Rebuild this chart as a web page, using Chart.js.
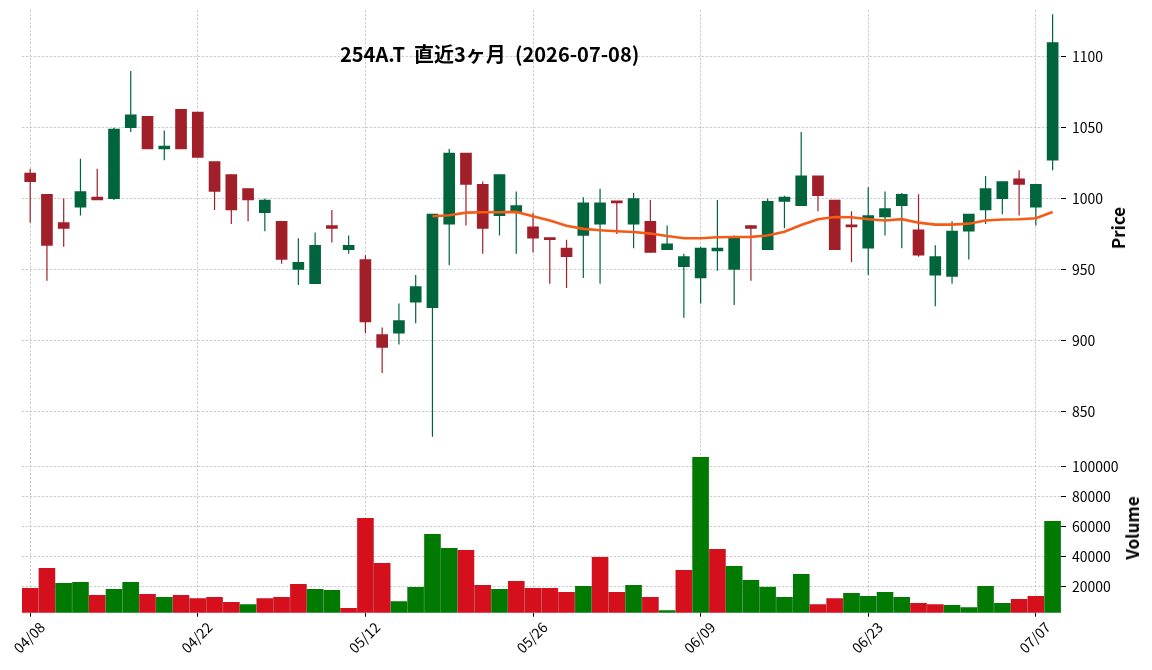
<!DOCTYPE html>
<html lang="ja">
<head>
<meta charset="utf-8">
<title>254A.T 直近3ヶ月</title>
<script src="https://cdn.jsdelivr.net/npm/chart.js@4.4.1/dist/chart.umd.min.js"></script>
<style>
    html, body { margin: 0; padding: 0; background: #fff; }
    #wrap {
        position: relative;
        width: 1152px;
        height: 670px;
        overflow: hidden;
        font-family: 'Noto Sans CJK JP', 'Noto Sans', sans-serif;
        color: #000;
    }
    #price-canvas { position: absolute; left: 0; top: 0; }
    #volume-canvas { position: absolute; left: 0; top: 441px; }
    .chart-title {
        position: absolute;
        left: 340px;
        top: 40px;
        font-size: 20px;
        line-height: 28px;
        font-weight: bold;
        white-space: pre;
    }
    .axis-label {
        position: absolute;
        font-size: 17px;
        font-weight: bold;
        line-height: 20px;
        white-space: pre;
        transform: translate(-50%, -50%) rotate(-90deg);
    }
</style>
</head>
<body>
<div id="wrap">
    <canvas id="price-canvas" width="1152" height="441"></canvas>
    <canvas id="volume-canvas" width="1152" height="229"></canvas>
    <div class="chart-title">254A.T  直近3ヶ月  (2026-07-08)</div>
    <div class="axis-label" style="left:1118px; top:228px;">Price</div>
    <div class="axis-label" style="left:1132px; top:528px;">Volume</div>
</div>

<script>
// ------------------------
// DATA
// ------------------------

const dates = [
    "04/08", "04/09", "04/10", "04/13", "04/14", "04/15", "04/16", "04/17", "04/20", "04/21",
    "04/22", "04/23", "04/24", "04/27", "04/28", "04/30", "05/01", "05/07", "05/08", "05/11",
    "05/12", "05/13", "05/14", "05/15", "05/18", "05/19", "05/20", "05/21", "05/22", "05/25",
    "05/26", "05/27", "05/28", "05/29", "06/01", "06/02", "06/03", "06/04", "06/05", "06/08",
    "06/09", "06/10", "06/11", "06/12", "06/15", "06/16", "06/17", "06/18", "06/19", "06/22",
    "06/23", "06/24", "06/25", "06/26", "06/29", "06/30", "07/01", "07/02", "07/03", "07/06",
    "07/07", "07/08"
];

const opens = [
    1018, 1003, 983, 994, 1001, 1000, 1050, 1058, 1035, 1063,
    1061, 1026, 1017, 1007, 990, 984, 950, 940, 981, 964,
    957, 904, 905, 927, 923, 982, 1032, 1010, 988, 990,
    980, 972, 965, 974, 982, 998, 982, 984, 964, 952,
    944, 963, 950, 981, 964, 998, 995, 1016, 999, 981,
    965, 987, 995, 978, 946, 945, 977, 992, 1000, 1014,
    994, 1027
];

const highs = [
    1021, 1003, 1000, 1028, 1021, 1050, 1090, 1058, 1048, 1063,
    1061, 1026, 1017, 1007, 1000, 984, 972, 976, 992, 974,
    960, 909, 926, 946, 989, 1035, 1032, 1012, 1017, 1005,
    990, 972, 971, 1001, 1007, 998, 1004, 999, 981, 961,
    966, 999, 974, 981, 1000, 1002, 1047, 1016, 999, 991,
    1008, 1005, 1004, 1003, 967, 984, 989, 1016, 1012, 1020,
    1010, 1130
];

const lows = [
    983, 942, 966, 988, 999, 999, 1047, 1035, 1027, 1035,
    1029, 992, 982, 984, 977, 954, 939, 940, 969, 961,
    905, 877, 897, 912, 832, 953, 981, 961, 974, 961,
    962, 940, 937, 944, 940, 975, 965, 962, 964, 916,
    926, 949, 925, 942, 964, 979, 995, 991, 964, 955,
    946, 974, 965, 959, 924, 940, 957, 982, 989, 988,
    981, 1020
];

const closes = [
    1012, 967, 979, 1005, 999, 1049, 1059, 1035, 1037, 1035,
    1029, 1005, 992, 999, 999, 957, 955, 967, 979, 967,
    913, 895, 914, 938, 989, 1032, 1010, 979, 1017, 995,
    972, 971, 959, 997, 997, 997, 1000, 962, 968, 959,
    965, 965, 972, 979, 998, 1001, 1016, 1002, 964, 980,
    988, 993, 1003, 960, 959, 977, 989, 1007, 1012, 1010,
    1010, 1110
];

const volumes = [
    19100, 32400, 22400, 23100, 14400, 18400, 23100, 15100, 13100, 14400,
    12400, 13100, 9800, 8400, 12400, 13100, 21800, 18400, 17800, 5800,
    65800, 35800, 10400, 19800, 55100, 45800, 44400, 21100, 18400, 23800,
    19100, 19100, 16400, 20400, 39800, 16400, 21100, 13100, 4400, 31100,
    106400, 45100, 33800, 24400, 20000, 13100, 28400, 8400, 12400, 15800,
    13800, 16400, 13100, 9100, 8400, 7800, 6400, 20400, 9100, 11800,
    13800, 63800
];

// 25-day moving average, starts on the 25th session
const ma25 = [
    null, null, null, null, null, null, null, null, null, null,
    null, null, null, null, null, null, null, null, null, null,
    null, null, null, null, 987.5, 988.2, 990.1, 990.3, 990.3, 990.6,
    987.6, 984.5, 980.8, 978.6, 977.6, 976.9, 976.4, 975.3, 973.6, 972.0,
    972.0, 972.7, 972.9, 973.0, 974.0, 976.6, 981.3, 985.4, 987.0, 986.8,
    985.4, 984.5, 985.5, 983.0, 981.6, 981.6, 982.3, 984.5, 985.2, 985.4,
    986.1, 990.5
];

const xTickLabels = ["04/08", "04/22", "05/12", "05/26", "06/09", "06/23", "07/07"];
const priceTicks = [850, 900, 950, 1000, 1050, 1100];
const volumeTicks = [20000, 40000, 60000, 80000, 100000];

// ------------------------
// STYLE
// ------------------------

const CANDLE_UP = "#00643c";
const CANDLE_DOWN = "#a01f29";
const VOL_UP = "#007a00";
const VOL_DOWN = "#d50f1c";
const MA_COLOR = "#f35b17";
const GRID_COLOR = "#c2c2c2";

const PLOT_LEFT = 21.8;
const AXIS_WIDTH = 91;

Chart.defaults.font.family = "'Noto Sans CJK JP', 'Noto Sans', sans-serif";
Chart.defaults.font.size = 14;
Chart.defaults.color = "#000";

function candleColor(i) {
    return closes[i] >= opens[i] ? CANDLE_UP : CANDLE_DOWN;
}

function volumeColor(i) {
    if (i === 0) return closes[0] >= opens[0] ? VOL_UP : VOL_DOWN;
    return closes[i] > closes[i - 1] ? VOL_UP : VOL_DOWN;
}

function isLabeledTick(index) {
    return xTickLabels.includes(dates[index]);
}

function xScale(showLabels) {
    return {
        offset: true,
        grid: {
            offset: false,
            color: GRID_COLOR,
            lineWidth: ctx => isLabeledTick(ctx.index) ? 0.8 : 0,
            drawTicks: showLabels,
            tickLength: 4,
            tickColor: "#000",
            tickWidth: ctx => isLabeledTick(ctx.index) ? 1 : 0,
            tickBorderDash: []
        },
        border: { display: false, dash: [2.5, 1.5] },
        ticks: {
            display: showLabels,
            autoSkip: false,
            minRotation: 45,
            maxRotation: 45,
            padding: 2,
            labelOffset: 12,
            callback: (value, index) => isLabeledTick(index) ? dates[index] : ""
        },
        afterFit: scale => {
            scale.height = showLabels ? 229 - 171.7 : 0;
            scale.paddingLeft = 0;
            scale.paddingRight = 0;
        }
    };
}

function yScale(min, max, tickValues) {
    return {
        position: "right",
        min,
        max,
        grid: {
            color: GRID_COLOR,
            lineWidth: 0.8,
            tickLength: 5,
            tickColor: "#000",
            tickWidth: 1,
            tickBorderDash: []
        },
        border: { display: false, dash: [2.5, 1.5] },
        ticks: {
            padding: 6,
            callback: v => String(v)
        },
        afterBuildTicks: scale => {
            scale.ticks = tickValues.map(v => ({ value: v }));
        },
        afterFit: scale => {
            scale.width = AXIS_WIDTH;
            scale.paddingTop = 0;
            scale.paddingBottom = 0;
        }
    };
}

// ------------------------
// PRICE PANEL
// ------------------------

function renderPriceChart() {
    const canvas = document.getElementById("price-canvas");

    return new Chart(canvas, {
        type: "bar",
        data: {
            labels: dates,
            datasets: [
                {
                    type: "line",
                    label: "MA25",
                    data: ma25,
                    borderColor: MA_COLOR,
                    borderWidth: 2.6,
                    pointRadius: 0,
                    tension: 0,
                    order: 0
                },
                {
                    label: "body",
                    data: opens.map((o, i) => [o, closes[i]]),
                    backgroundColor: ctx => candleColor(ctx.dataIndex),
                    barThickness: 11,
                    minBarLength: 2,
                    grouped: false,
                    order: 1
                },
                {
                    label: "wick",
                    data: lows.map((l, i) => [l, highs[i]]),
                    backgroundColor: ctx => candleColor(ctx.dataIndex),
                    barThickness: 1.2,
                    inflateAmount: 0,
                    grouped: false,
                    order: 2
                }
            ]
        },
        options: {
            responsive: false,
            animation: false,
            layout: { padding: { left: PLOT_LEFT, top: 10, right: 0, bottom: 0 } },
            plugins: {
                legend: { display: false },
                tooltip: { enabled: false }
            },
            scales: {
                x: xScale(false),
                y: yScale(829, 1133, priceTicks)
            }
        }
    });
}

// ------------------------
// VOLUME PANEL
// ------------------------

function renderVolumeChart() {
    const canvas = document.getElementById("volume-canvas");

    return new Chart(canvas, {
        type: "bar",
        data: {
            labels: dates,
            datasets: [{
                label: "Volume",
                data: volumes,
                backgroundColor: ctx => volumeColor(ctx.dataIndex),
                borderColor: "rgba(0,0,0,0.25)",
                borderWidth: { left: 0.5, right: 0.5, top: 0, bottom: 0 },
                barPercentage: 1,
                categoryPercentage: 1
            }]
        },
        options: {
            responsive: false,
            animation: false,
            layout: { padding: { left: PLOT_LEFT, top: 0, right: 0, bottom: 0 } },
            plugins: {
                legend: { display: false },
                tooltip: { enabled: false }
            },
            scales: {
                x: xScale(true),
                y: yScale(2700, 117000, volumeTicks)
            }
        }
    });
}

renderPriceChart();
renderVolumeChart();
</script>
</body>
</html>
